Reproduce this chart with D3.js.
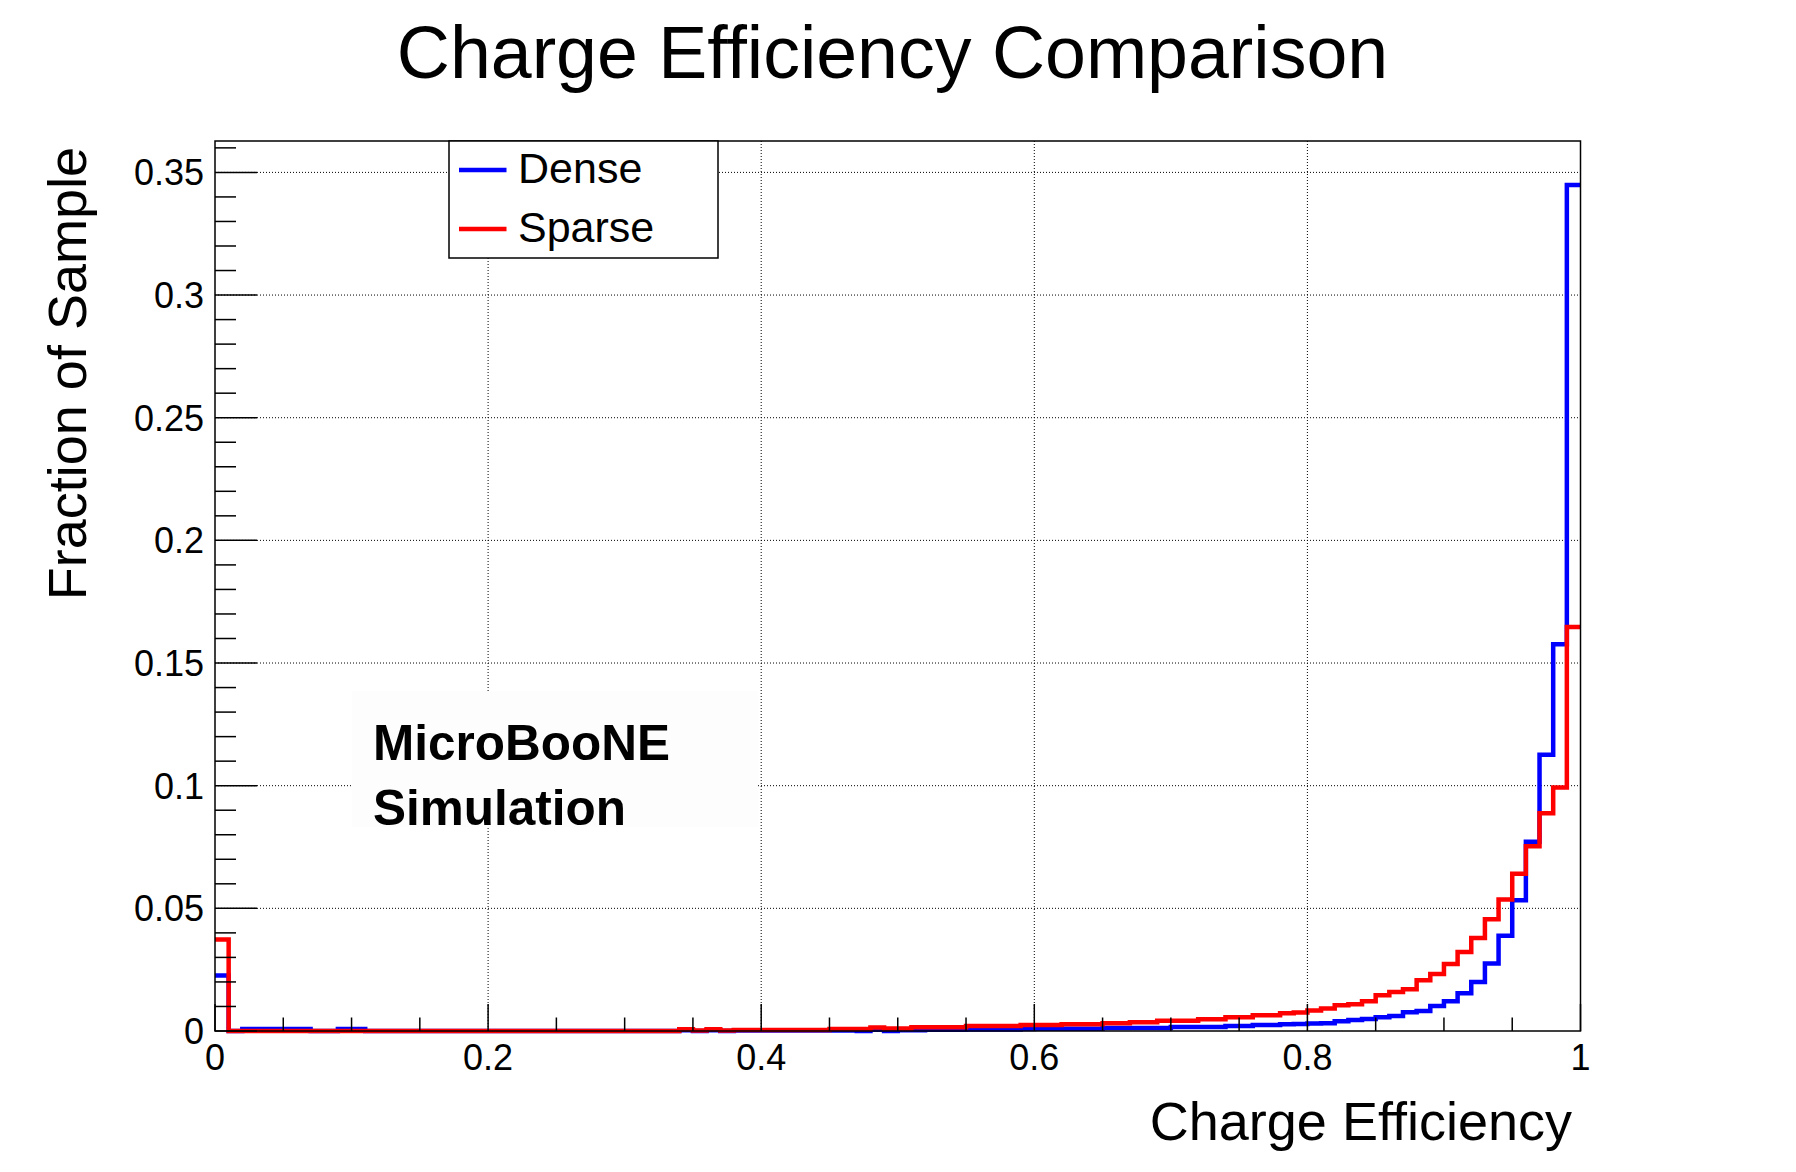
<!DOCTYPE html>
<html>
<head>
<meta charset="utf-8">
<script src="https://cdn.jsdelivr.net/npm/d3@7"></script>
<style>
  html, body { margin: 0; padding: 0; background: #ffffff; }
  svg { display: block; }
  text { font-family: "Liberation Sans", Arial, Helvetica, sans-serif; fill: #000; }
</style>
</head>
<body>
<svg id="chart" width="1796" height="1172"></svg>
<script>
// ---------------- data ----------------
const binEdgesRange = [0, 1];       // x range of histogram
const nBins = 100;                   // bin count (width 0.01)
const seriesNames = ["Dense", "Sparse"];
const seriesColors = ["#0000ff", "#ff0000"];

const denseValues = [
  0.0226, 0, 0.0008, 0.0008, 0.0008, 0.0008, 0.0008, 0, 0, 0.0008,
  0.0008, 0, 0, 0, 0, 0, 0, 0, 0, 0,
  0, 0, 0, 0, 0, 0, 0, 0, 0, 0,
  0, 0, 0, 0, 0.0003, 0, 0.0003, 0, 0.0002, 0.0002,
  0.0002, 0.0002, 0.0002, 0.0002, 0.0002, 0.0002, 0.0002, 0, 0.0005, 0,
  0.0003, 0.0003, 0.0005, 0.0005, 0.0005, 0.0006, 0.0006, 0.0006, 0.0006, 0.0008,
  0.0009, 0.0009, 0.0009, 0.0009, 0.0009, 0.0012, 0.0012, 0.0012, 0.0012, 0.0012,
  0.0016, 0.0016, 0.0016, 0.0016, 0.0020, 0.0020, 0.0024, 0.0024, 0.0028, 0.0029,
  0.0031, 0.0032, 0.0040, 0.0045, 0.0049, 0.0056, 0.0061, 0.0076, 0.0082, 0.0102,
  0.0121, 0.0154, 0.0200, 0.0275, 0.0388, 0.0533, 0.0771, 0.1126, 0.1577, 0.3449
];

const sparseValues = [
  0.0373, 0, 0, 0, 0, 0, 0, 0, 0, 0,
  0, 0, 0, 0, 0, 0, 0, 0, 0, 0,
  0, 0, 0, 0, 0, 0, 0, 0, 0, 0,
  0, 0, 0, 0, 0.0007, 0.0002, 0.0007, 0.0002, 0.0004, 0.0004,
  0.0004, 0.0004, 0.0004, 0.0004, 0.0004, 0.0008, 0.0008, 0.0008, 0.0014, 0.0010,
  0.0010, 0.0015, 0.0015, 0.0015, 0.0015, 0.0020, 0.0020, 0.0020, 0.0020, 0.0024,
  0.0024, 0.0024, 0.0028, 0.0028, 0.0028, 0.0032, 0.0032, 0.0036, 0.0036, 0.0042,
  0.0042, 0.0042, 0.0048, 0.0048, 0.0056, 0.0056, 0.0064, 0.0064, 0.0072, 0.0075,
  0.0084, 0.0092, 0.0105, 0.0109, 0.0121, 0.0146, 0.0159, 0.0170, 0.0207, 0.0232,
  0.0273, 0.0322, 0.0379, 0.0456, 0.0536, 0.0641, 0.0753, 0.0888, 0.0993, 0.1647
];

const xTickValues = [0, 0.2, 0.4, 0.6, 0.8, 1];
const xTickLabels = ["0", "0.2", "0.4", "0.6", "0.8", "1"];
const yTickValues = [0, 0.05, 0.1, 0.15, 0.2, 0.25, 0.3, 0.35];
const yTickLabels = ["0", "0.05", "0.1", "0.15", "0.2", "0.25", "0.3", "0.35"];
const yMax = 0.3628;

const titleText = "Charge Efficiency Comparison";
const xTitle = "Charge Efficiency";
const yTitle = "Fraction of Sample";
const labelLines = ["MicroBooNE", "Simulation"];

// ---------------- layout ----------------
const frame = { left: 215, right: 1580.5, top: 141, bottom: 1031 };
const svg = d3.select("#chart");

const x = d3.scaleLinear().domain(binEdgesRange).range([frame.left, frame.right]);
const y = d3.scaleLinear().domain([0, yMax]).range([frame.bottom, frame.top]);

// grid (dotted) at major ticks
const grid = svg.append("g").attr("stroke", "#000").attr("stroke-width", 1)
  .attr("stroke-dasharray", "1,2").attr("fill", "none");
xTickValues.filter(v => v > 0 && v < 1).forEach(v => {
  grid.append("line").attr("x1", x(v)).attr("x2", x(v)).attr("y1", frame.top).attr("y2", frame.bottom);
});
yTickValues.filter(v => v > 0).forEach(v => {
  grid.append("line").attr("x1", frame.left).attr("x2", frame.right).attr("y1", y(v)).attr("y2", y(v));
});

// MicroBooNE label box (white fill covering grid)
svg.append("rect").attr("x", 352).attr("y", 691).attr("width", 406).attr("height", 136)
  .attr("fill", "#fdfdfd");
svg.append("g").selectAll("text").data(labelLines).join("text")
  .attr("x", 373).attr("y", (d, i) => 760 + i * 65)
  .attr("font-size", 49.5).attr("font-weight", "bold").text(d => d);

// histograms
const binW = (binEdgesRange[1] - binEdgesRange[0]) / nBins;
function stepPath(vals) {
  let p = d3.path();
  vals.forEach((v, i) => {
    const x0 = x(binEdgesRange[0] + i * binW), x1 = x(binEdgesRange[0] + (i + 1) * binW);
    if (i === 0) p.moveTo(x0, y(v)); else p.lineTo(x0, y(v));
    p.lineTo(x1, y(v));
  });
  return p.toString();
}
[denseValues, sparseValues].forEach((vals, k) => {
  svg.append("path").attr("d", stepPath(vals)).attr("fill", "none")
    .attr("stroke", seriesColors[k]).attr("stroke-width", 4.5)
    .attr("stroke-linejoin", "miter").attr("stroke-linecap", "butt");
});

// axes with custom ticks
const axG = svg.append("g").attr("stroke", "#000").attr("stroke-width", 1.5);
// x major / minor ticks
d3.range(0, 21).map(i => i * 0.05).forEach(v => {
  const major = Math.abs(v / 0.2 - Math.round(v / 0.2)) < 1e-6;
  axG.append("line").attr("x1", x(v)).attr("x2", x(v))
    .attr("y1", frame.bottom).attr("y2", frame.bottom - (major ? 27 : 13.5));
});
// y major / minor ticks
d3.range(0, 37).map(i => i * 0.01).forEach((v, i) => {
  const major = i % 5 === 0;
  axG.append("line").attr("x1", frame.left).attr("x2", frame.left + (major ? 42 : 21))
    .attr("y1", y(v)).attr("y2", y(v));
});
// frame
svg.append("rect").attr("x", frame.left).attr("y", frame.top)
  .attr("width", frame.right - frame.left).attr("height", frame.bottom - frame.top)
  .attr("fill", "none").attr("stroke", "#000").attr("stroke-width", 1.5);

// tick labels
svg.append("g").selectAll("text").data(xTickValues).join("text")
  .attr("x", d => x(d)).attr("y", 1070).attr("text-anchor", "middle")
  .attr("font-size", 36).text((d, i) => xTickLabels[i]);
svg.append("g").selectAll("text").data(yTickValues).join("text")
  .attr("x", 204).attr("y", d => y(d)).attr("dy", "0.36em").attr("text-anchor", "end")
  .attr("font-size", 36).text((d, i) => yTickLabels[i]);

// axis titles
svg.append("text").attr("x", 1572).attr("y", 1140).attr("text-anchor", "end")
  .attr("font-size", 54).text(xTitle);
svg.append("text").attr("transform", "translate(86,147) rotate(-90)")
  .attr("text-anchor", "end").attr("font-size", 54).text(yTitle);

// title
svg.append("text").attr("x", 892.5).attr("y", 78).attr("text-anchor", "middle")
  .attr("font-size", 73.5).text(titleText);

// legend
const leg = svg.append("g");
leg.append("rect").attr("x", 449).attr("y", 141).attr("width", 269).attr("height", 117)
  .attr("fill", "#fff").attr("stroke", "#000").attr("stroke-width", 1.5);
seriesNames.forEach((name, i) => {
  const ly = 170 + i * 59;
  leg.append("line").attr("x1", 459).attr("x2", 506.5).attr("y1", ly).attr("y2", ly)
    .attr("stroke", seriesColors[i]).attr("stroke-width", 4.5);
  leg.append("text").attr("x", 518).attr("y", ly - 2.5).attr("dy", "0.36em")
    .attr("font-size", 43).text(name);
});
</script>
</body>
</html>
